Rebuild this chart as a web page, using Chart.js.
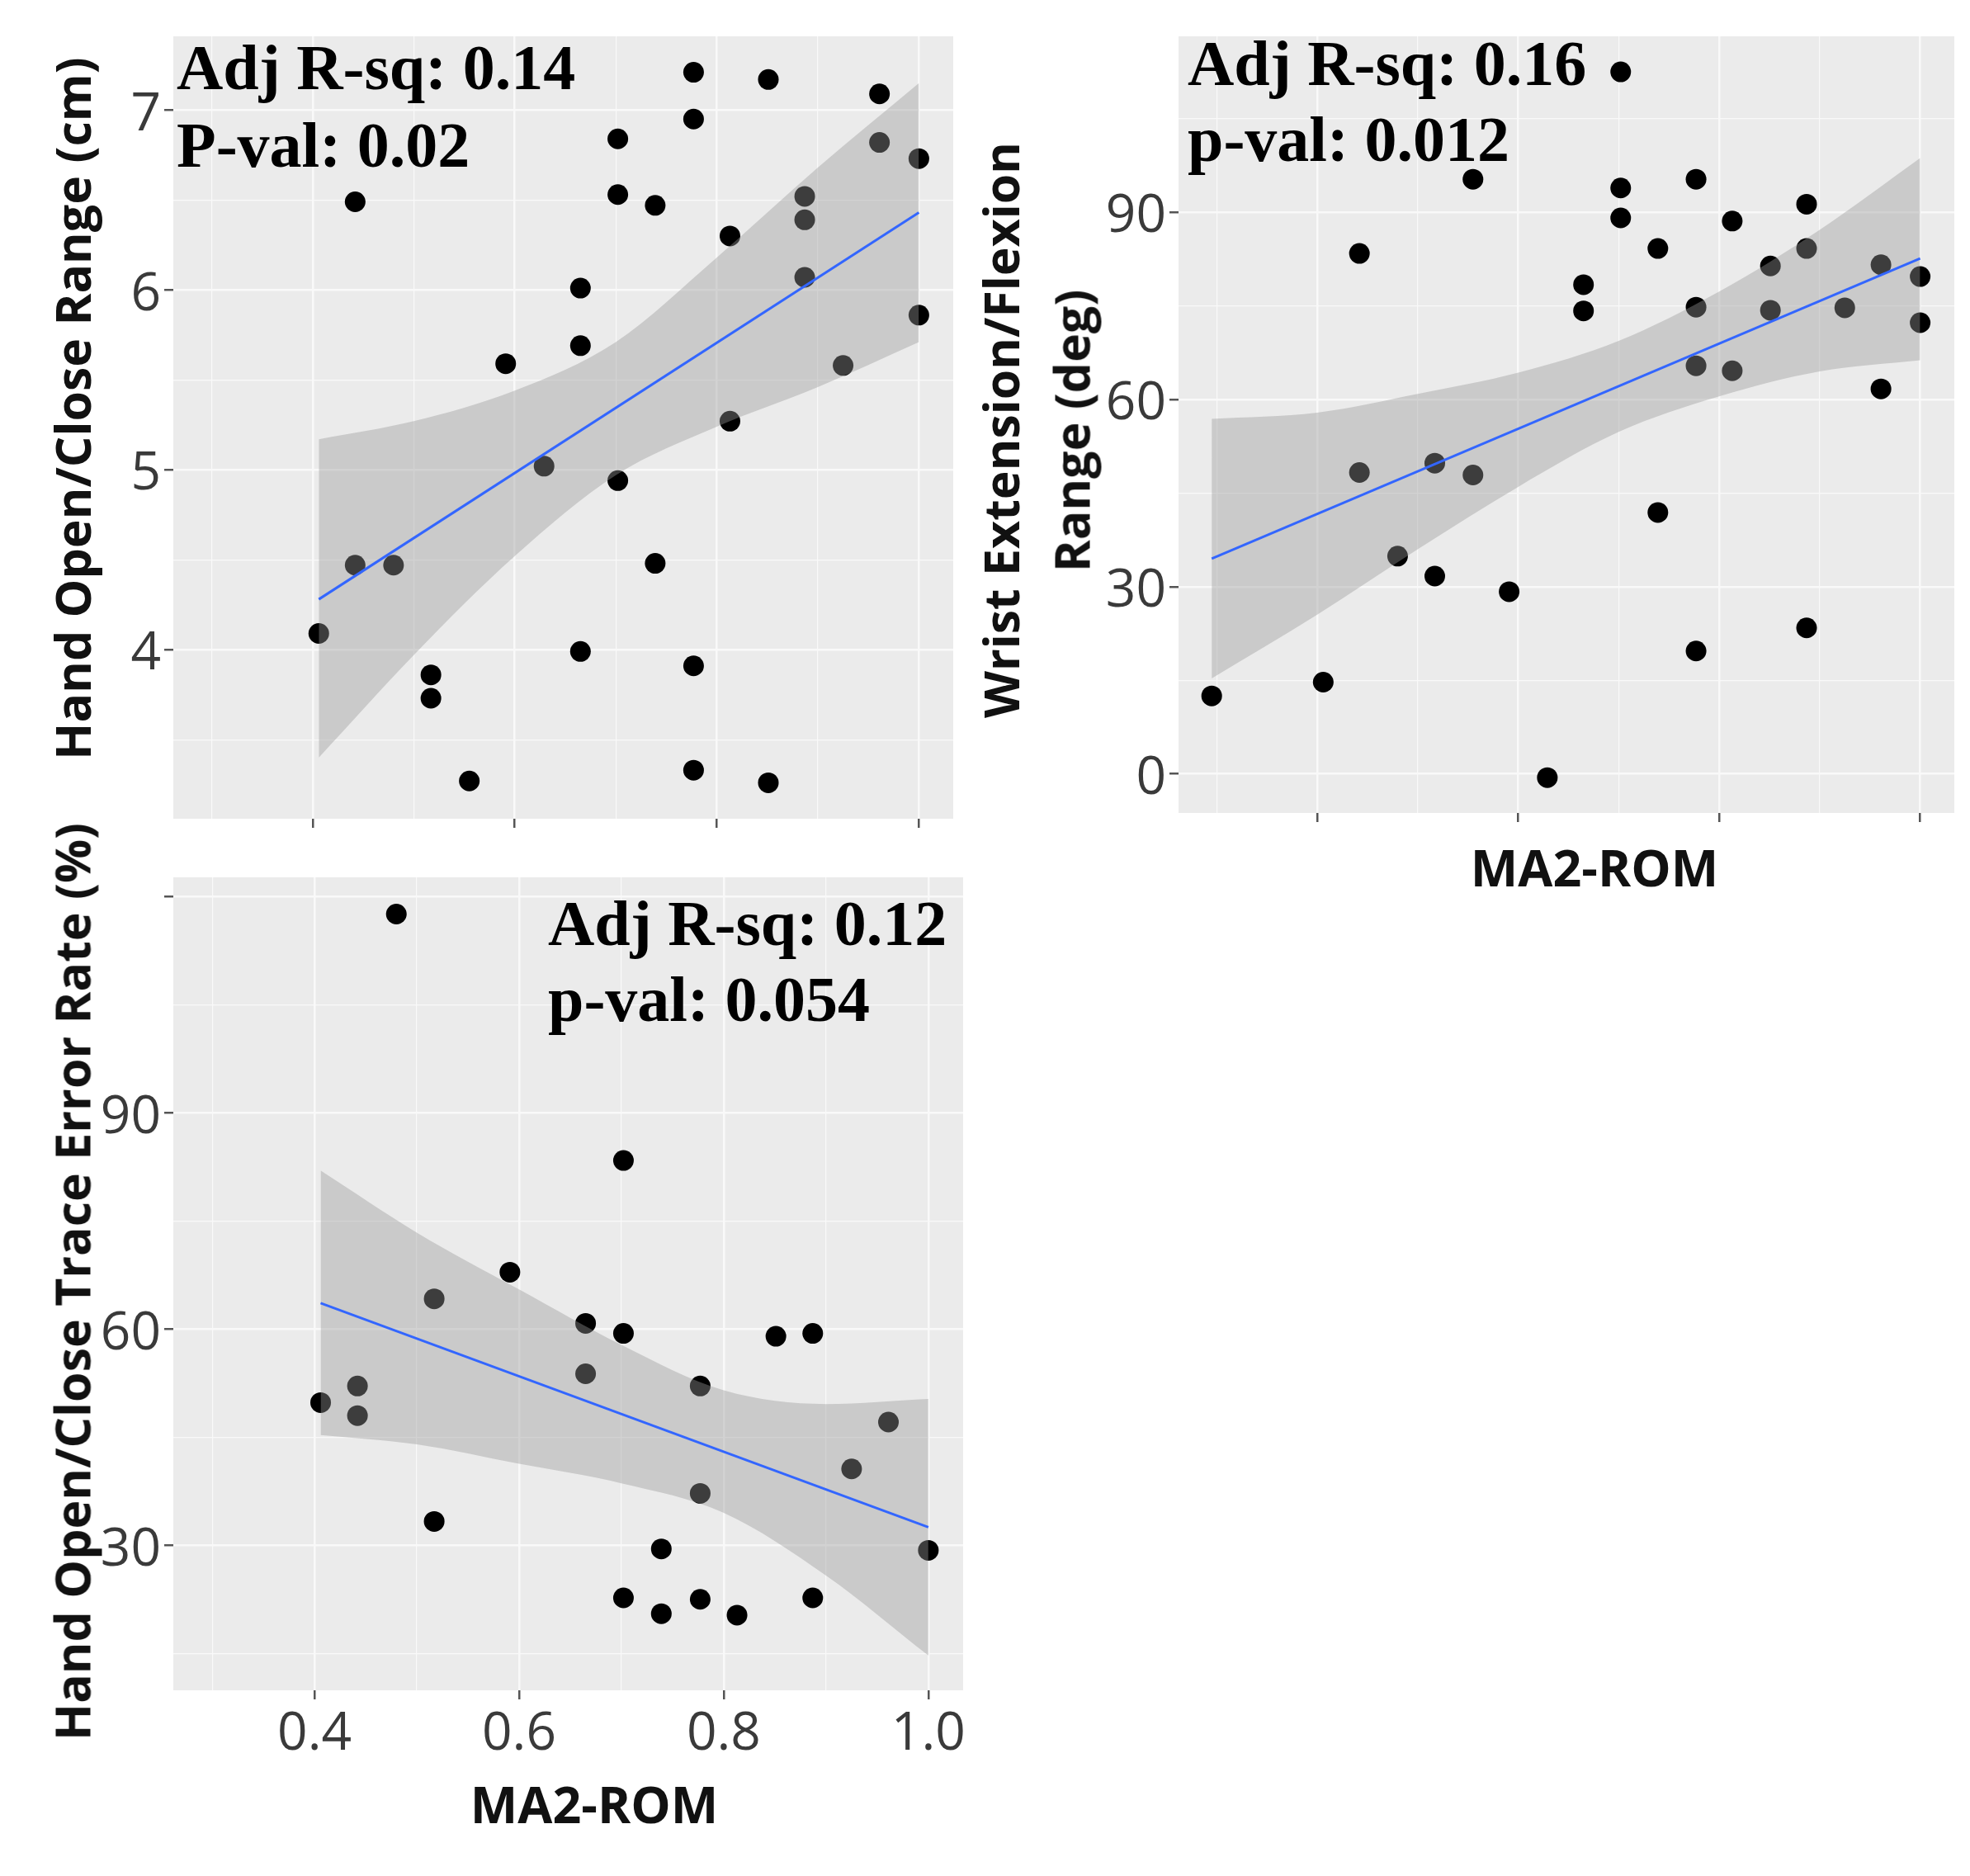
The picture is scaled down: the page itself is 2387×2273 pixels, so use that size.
<!DOCTYPE html>
<html><head><meta charset="utf-8">
<script src="https://cdn.jsdelivr.net/npm/chart.js@4.4.1/dist/chart.umd.min.js"></script>
<style>
html,body{margin:0;padding:0;background:#fff;}
body{width:2387px;height:2273px;overflow:hidden;position:relative;}
canvas{position:absolute;}
.t{position:absolute;white-space:nowrap;}
.ytitle{font-family:'Open Sans',sans-serif;font-weight:700;font-size:59px;line-height:1;color:#111;transform:translate(-50%,-50%) rotate(-90deg);}
.xtitle{font-family:'Open Sans',sans-serif;font-weight:700;font-size:61px;line-height:1;color:#111;transform:translate(-50%,-50%);}
.ann{font-family:'Liberation Serif','Times New Roman',serif;font-weight:700;font-size:78px;line-height:78px;color:#000;}
</style></head><body>
<canvas id="c1"></canvas>
<canvas id="c2"></canvas>
<canvas id="c3"></canvas>

<div class="t ytitle" style="left:87px;top:495px;">Hand Open/Close Range (cm)</div>
<div class="t ytitle" style="left:1212px;top:521px;">Wrist Extension/Flexion</div>
<div class="t ytitle" style="left:1298px;top:522px;">Range (deg)</div>
<div class="t ytitle" style="left:87px;top:1553px;">Hand Open/Close Trace Error Rate (%)</div>
<div class="t xtitle" style="left:1932px;top:1050px;">MA2-ROM</div>
<div class="t xtitle" style="left:720px;top:2185px;">MA2-ROM</div>

<div class="t ann" style="left:214px;top:43px;">Adj R-sq: 0.14</div>
<div class="t ann" style="left:214px;top:137px;">P-val: 0.02</div>
<div class="t ann" style="left:1439px;top:38px;">Adj R-sq: 0.16</div>
<div class="t ann" style="left:1439px;top:130px;">p-val: 0.012</div>
<div class="t ann" style="left:664px;top:1080px;">Adj R-sq: 0.12</div>
<div class="t ann" style="left:664px;top:1172px;">p-val: 0.054</div>

<script>
// ---------- shared x axis (MA2-ROM) ----------
const xMin = 0.262, xMax = 1.034;
const xMajorTicks = [0.4, 0.6, 0.8, 1.0];
const xMinorTicks = [0.3, 0.5, 0.7, 0.9];
const xTickLabels = ['0.4', '0.6', '0.8', '1.0'];

// ---------- Panel 1: Hand Open/Close Range (cm) ----------
const p1X = [0.777,0.851,0.961,0.777,0.702,0.961,1.0,0.442,0.702,0.739,0.887,0.887,0.813,0.887,0.665,1.0,0.665,0.591,0.925,0.813,0.629,0.702,0.442,0.480,0.739,0.406,0.665,0.777,0.517,0.517,0.555,0.777,0.851];
const p1Y = [7.21,7.17,7.09,6.95,6.84,6.82,6.73,6.49,6.53,6.47,6.52,6.39,6.30,6.07,6.01,5.86,5.69,5.59,5.58,5.27,5.02,4.94,4.47,4.47,4.48,4.09,3.99,3.91,3.86,3.73,3.27,3.33,3.26];
const p1FitX = [0.406, 1.0];
const p1FitY = [4.28, 6.43];
const p1BandX = [0.406, 0.5, 0.6, 0.7, 0.8, 0.9, 1.0];
const p1BandUpper = [5.17, 5.27, 5.44, 5.71, 6.18, 6.68, 7.15];
const p1BandLower = [3.40, 3.97, 4.52, 4.97, 5.24, 5.46, 5.71];
const p1YMin = 3.06, p1YMax = 7.41;
const p1YMajorTicks = [4, 5, 6, 7];
const p1YMinorTicks = [3.5, 4.5, 5.5, 6.5];
const p1YTickLabels = ['4', '5', '6', '7'];

// ---------- Panel 2: Wrist Extension/Flexion Range (deg) ----------
const p2X = [0.702,0.555,0.777,0.702,0.887,0.702,0.813,0.442,0.739,0.887,0.851,0.961,1.0,0.665,0.665,0.777,0.851,0.925,1.0,0.777,0.813,0.961,0.517,0.442,0.555,0.739,0.480,0.517,0.591,0.887,0.777,0.406,0.295,0.629];
const p2Y = [112.5,95.3,95.3,93.9,91.3,89.1,88.6,83.4,84.2,84.2,81.4,81.6,79.7,78.4,74.2,74.8,74.3,74.7,72.3,65.4,64.6,61.7,49.8,48.3,47.9,41.9,34.9,31.7,29.2,23.4,19.7,14.7,12.5,-0.6];
const p2FitX = [0.295, 1.0];
const p2FitY = [34.5, 82.6];
const p2BandX = [0.295, 0.4, 0.5, 0.6, 0.7, 0.8, 0.9, 1.0];
const p2BandUpper = [56.9, 57.9, 60.9, 64.3, 69.4, 77.3, 87.2, 98.7];
const p2BandLower = [15.3, 25.5, 36.0, 46.0, 54.8, 60.5, 64.5, 66.3];
const p2YMin = -6.26, p2YMax = 118.2;
const p2YMajorTicks = [0, 30, 60, 90];
const p2YMinorTicks = [15, 45, 75, 105];
const p2YTickLabels = ['0', '30', '60', '90'];

// ---------- Panel 3: Hand Open/Close Trace Error Rate (%) ----------
const p3X = [0.480,0.702,0.591,0.517,0.665,0.702,0.851,0.887,0.665,0.442,0.777,0.406,0.442,0.961,0.925,0.777,0.517,0.739,1.0,0.702,0.777,0.887,0.739,0.813];
const p3Y = [117.6,83.4,67.9,64.2,60.8,59.4,59.0,59.4,53.8,52.1,52.1,49.8,48.0,47.1,40.6,37.2,33.3,29.5,29.3,22.7,22.5,22.7,20.5,20.3];
const p3FitX = [0.406, 1.0];
const p3FitY = [63.6, 32.5];
const p3BandX = [0.406, 0.5, 0.6, 0.7, 0.8, 0.9, 1.0];
const p3BandUpper = [82.0, 73.4, 65.5, 57.8, 51.5, 49.6, 50.3];
const p3BandLower = [45.3, 44.0, 41.3, 38.6, 34.5, 25.8, 14.7];
const p3YMin = 9.87, p3YMax = 122.7;
const p3YMajorTicks = [30, 60, 90, 120];
const p3YMinorTicks = [15, 45, 75, 105];
const p3YTickLabels = ['30', '60', '90', ''];

// ---------- helpers ----------
const zip = (xs, ys) => xs.map((x, i) => ({x: x, y: ys[i]}));

const panelBg = {
  id: 'panelBg',
  beforeDraw(chart) {
    const a = chart.chartArea, ctx = chart.ctx;
    ctx.save();
    ctx.fillStyle = '#EBEBEB';
    ctx.fillRect(a.left, a.top, a.right - a.left, a.bottom - a.top);
    ctx.restore();
  }
};

function makeAxis(axis, min, max, major, minor, labels, showLabels, fitSize) {
  const all = major.concat(minor).sort((a, b) => a - b);
  const isMajor = c => c.tick && major.indexOf(c.tick.value) >= 0;
  return {
    type: 'linear', min: min, max: max, bounds: 'data',
    afterBuildTicks: s => { s.ticks = all.map(v => ({value: v})); },
    afterFit: s => {
      if (axis === 'x') s.height = fitSize; else s.width = fitSize;
      s.paddingTop = 0; s.paddingBottom = 0; s.paddingLeft = 0; s.paddingRight = 0;
    },
    grid: {
      color: '#F9F9F9',
      lineWidth: c => isMajor(c) ? 2.5 : 1.2,
      tickColor: c => isMajor(c) ? '#555555' : 'rgba(0,0,0,0)',
      tickLength: 11, tickWidth: 2.5, drawTicks: true, drawOnChartArea: true
    },
    border: {display: false},
    ticks: {
      display: showLabels, autoSkip: false, maxRotation: 0, minRotation: 0, padding: 4,
      color: '#3a3a3a',
      font: {family: "'Open Sans', sans-serif", size: 64, weight: 'normal'},
      labelOffset: axis === 'y' ? 6 : 0,
      callback: v => { const k = major.indexOf(v); return k >= 0 ? labels[k] : ''; }
    }
  };
}

function panel(id, box, p) {
  const cv = document.getElementById(id);
  const w = box.yAxisW + box.plotW + box.padR;
  const h = box.plotH + box.xAxisH;
  cv.width = w; cv.height = h;
  cv.style.left = (box.plotL - box.yAxisW) + 'px';
  cv.style.top = box.plotT + 'px';
  cv.style.width = w + 'px'; cv.style.height = h + 'px';
  new Chart(cv, {
    type: 'line',
    data: {
      datasets: [
        { label: 'points', data: zip(p.x, p.y), showLine: false, order: 3,
          pointRadius: 12.5, pointBackgroundColor: '#000', pointBorderWidth: 0, pointBorderColor: 'rgba(0,0,0,0)' },
        { label: 'lower', data: zip(p.bandX, p.lower), order: 2, fill: false,
          borderColor: 'rgba(0,0,0,0)', borderWidth: 1, pointRadius: 0, cubicInterpolationMode: 'monotone' },
        { label: 'upper', data: zip(p.bandX, p.upper), order: 1, fill: '-1',
          backgroundColor: 'rgba(153,153,153,0.4)',
          borderColor: 'rgba(0,0,0,0)', borderWidth: 1, pointRadius: 0, cubicInterpolationMode: 'monotone' },
        { label: 'fit', data: zip(p.fitX, p.fitY), order: 0, fill: false,
          borderColor: '#3366FF', borderWidth: 3, pointRadius: 0, tension: 0 }
      ]
    },
    options: {
      responsive: false, maintainAspectRatio: false, animation: false, devicePixelRatio: 1,
      events: [],
      layout: {autoPadding: false, padding: {left: 0, top: 0, right: box.padR, bottom: 0}},
      plugins: {legend: {display: false}, tooltip: {enabled: false}},
      scales: {
        x: makeAxis('x', xMin, xMax, xMajorTicks, xMinorTicks, xTickLabels, p.showX, box.xAxisH),
        y: makeAxis('y', p.yMin, p.yMax, p.yMajor, p.yMinor, p.yLabels, true, box.yAxisW)
      }
    },
    plugins: [panelBg]
  });
}

panel('c1', {plotL: 210, plotT: 44, plotW: 945, plotH: 948, yAxisW: 70, xAxisH: 20, padR: 0},
  {x: p1X, y: p1Y, fitX: p1FitX, fitY: p1FitY, bandX: p1BandX, upper: p1BandUpper, lower: p1BandLower,
   yMin: p1YMin, yMax: p1YMax, yMajor: p1YMajorTicks, yMinor: p1YMinorTicks, yLabels: p1YTickLabels, showX: false});

panel('c2', {plotL: 1428, plotT: 44, plotW: 940, plotH: 941, yAxisW: 130, xAxisH: 20, padR: 0},
  {x: p2X, y: p2Y, fitX: p2FitX, fitY: p2FitY, bandX: p2BandX, upper: p2BandUpper, lower: p2BandLower,
   yMin: p2YMin, yMax: p2YMax, yMajor: p2YMajorTicks, yMinor: p2YMinorTicks, yLabels: p2YTickLabels, showX: false});

panel('c3', {plotL: 210, plotT: 1063, plotW: 957, plotH: 985, yAxisW: 110, xAxisH: 100, padR: 60},
  {x: p3X, y: p3Y, fitX: p3FitX, fitY: p3FitY, bandX: p3BandX, upper: p3BandUpper, lower: p3BandLower,
   yMin: p3YMin, yMax: p3YMax, yMajor: p3YMajorTicks, yMinor: p3YMinorTicks, yLabels: p3YTickLabels, showX: true});
</script>
</body></html>
